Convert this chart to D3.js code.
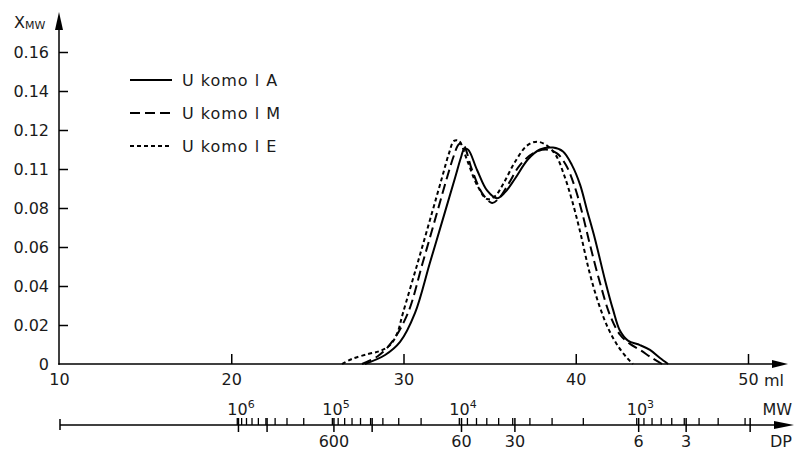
<!DOCTYPE html>
<html>
<head>
<meta charset="utf-8">
<script src="https://d3js.org/d3.v7.min.js"></script>
<style>
body { margin: 0; background: white; }
svg text { font-family: "DejaVu Sans", sans-serif; fill: #1a1a1a; }
.axis path, .axis line { stroke: black; stroke-width: 1.5; fill: none; }
.axis text { font-size: 16px; font-family: "DejaVu Sans", sans-serif; }
</style>
</head>
<body>
<script>
// elution volume (ml) and mass fraction
const mlA = [27.76, 28.93, 29.80, 30.67, 31.53, 32.41, 32.99, 33.34, 33.51, 33.74, 34.27, 34.85, 35.43, 35.89, 36.47, 37.23, 37.92, 38.68, 39.26, 39.78, 40.25, 40.65, 41.12, 41.70, 42.16, 42.57, 43.03, 43.73, 44.31, 44.89, 45.36];
const xA  = [0, 0.0046, 0.0113, 0.0262, 0.0518, 0.078, 0.0954, 0.106, 0.110, 0.110, 0.0995, 0.089, 0.085, 0.088, 0.095, 0.105, 0.110, 0.111, 0.109, 0.102, 0.092, 0.079, 0.064, 0.043, 0.028, 0.017, 0.012, 0.0097, 0.0072, 0.0031, 0];

const mlM = [27.59, 28.52, 29.33, 30.26, 31.11, 31.94, 32.52, 32.93, 33.22, 33.45, 33.98, 34.56, 35.14, 35.54, 36.07, 36.76, 37.52, 38.27, 38.91, 39.43, 39.90, 40.36, 40.83, 41.41, 41.99, 42.57, 43.15, 43.73, 44.43, 45.01];
const xM  = [0, 0.0041, 0.0113, 0.0262, 0.0518, 0.0774, 0.0954, 0.107, 0.1128, 0.1128, 0.0995, 0.0877, 0.0826, 0.085, 0.092, 0.102, 0.108, 0.110, 0.108, 0.102, 0.092, 0.078, 0.061, 0.0415, 0.025, 0.015, 0.0103, 0.0072, 0.0031, 0];

const mlE = [26.43, 27.01, 27.94, 28.64, 29.22, 29.62, 29.97, 30.82, 31.65, 32.23, 32.64, 32.93, 33.22, 33.69, 34.27, 34.85, 35.31, 35.83, 36.47, 37.17, 37.75, 38.33, 38.85, 39.32, 39.78, 40.25, 40.77, 41.29, 41.87, 42.45, 42.98, 43.32];
const xE  = [0, 0.0026, 0.0051, 0.0067, 0.0097, 0.0154, 0.0262, 0.0518, 0.0774, 0.0954, 0.108, 0.1144, 0.1144, 0.1046, 0.0918, 0.0846, 0.086, 0.093, 0.1036, 0.112, 0.114, 0.112, 0.107, 0.097, 0.084, 0.068, 0.048, 0.032, 0.0185, 0.0092, 0.0031, 0];

const seriesNames = ["U komo l A", "U komo l M", "U komo l E"];

const yTicks = [0, 0.02, 0.04, 0.06, 0.08, 0.10, 0.12, 0.14, 0.16];
const yTickLabels = ["0", "0.02", "0.04", "0.06", "0.08", "0.11", "0.12", "0.14", "0.16"];
const xTicks = [10, 20, 30, 40, 50];

// calibration: molecular weight vs elution volume
const calMW = [1e6, 1e5, 1e4, 1e3, 500, 200, 100];
const calML = [20.35, 25.87, 33.24, 43.54, 46.3, 49.83, 50.8];
const mwDecades = [1e6, 1e5, 1e4, 1e3];
const mwExp = ["6", "5", "4", "3"];
const dpTicks = [6000, 3000, 600, 300, 60, 30, 6, 3, 1];
const dpLabels = ["", "", "600", "", "60", "30", "6", "3", ""];
const glucose = 162;

const svg = d3.select("body").append("svg")
  .attr("width", 794).attr("height", 450);

const x = d3.scaleLinear().domain([10, 50]).range([59, 748]);
const y = d3.scaleLinear().domain([0, 0.16]).range([364, 52]);
const mwToMl = d3.scaleLog().domain(calMW).range(calML);
const mwX = d => x(mwToMl(d));

// y axis
svg.append("g")
  .attr("class", "axis")
  .attr("transform", "translate(59,0)")
  .call(d3.axisLeft(y).tickValues(yTicks).tickSizeInner(-9).tickSizeOuter(0).tickPadding(10)
    .tickFormat((d, i) => yTickLabels[i]))
  .call(g => g.select(".domain").remove())
  .call(g => g.selectAll(".tick").filter(d => d === 0).select("line").remove());

svg.append("line").attr("x1", 59).attr("x2", 59).attr("y1", 364.75).attr("y2", 26)
  .attr("stroke", "black").attr("stroke-width", 1.5);
svg.append("path").attr("d", "M59,12 L55,30 L63,30 Z").attr("fill", "black");

const yLab = svg.append("text").attr("x", 14).attr("y", 28).attr("font-size", 16);
yLab.append("tspan").text("X");
yLab.append("tspan").attr("font-size", 11).attr("dy", 1).text("MW");

// x axis
svg.append("g")
  .attr("class", "axis")
  .attr("transform", "translate(0,364)")
  .call(d3.axisBottom(x).tickValues(xTicks).tickSizeInner(-10).tickSizeOuter(0).tickPadding(10)
    .tickFormat(d3.format("d")))
  .call(g => g.select(".domain").remove())
  .call(g => g.selectAll(".tick").filter(d => d === 10).select("line").remove());

svg.append("line").attr("x1", 58.25).attr("x2", 776).attr("y1", 364).attr("y2", 364)
  .attr("stroke", "black").attr("stroke-width", 1.5);
svg.append("path").attr("d", "M788,364 L772,360 L772,368 Z").attr("fill", "black");
svg.append("text").attr("x", 764).attr("y", 386).attr("font-size", 16).text("ml");

// MW / DP axis
const ay = 425;
const ax = svg.append("g");
ax.append("line").attr("x1", 60).attr("x2", 778).attr("y1", ay).attr("y2", ay)
  .attr("stroke", "black").attr("stroke-width", 1.5);
ax.append("line").attr("x1", 60).attr("x2", 60).attr("y1", ay - 6).attr("y2", ay + 5)
  .attr("stroke", "black").attr("stroke-width", 1.5);
ax.append("path").attr("d", `M794,${ay} L774,${ay - 4} L774,${ay + 4} Z`).attr("fill", "black");

const mwMinor = [];
[1e5, 1e4, 1e3, 1e2].forEach(d => {
  for (let m = 2; m <= 9; m++) if (m * d >= 200) mwMinor.push(m * d);
});

ax.selectAll(".mwminor").data(mwMinor.concat(mwDecades)).join("line")
  .attr("x1", d => mwX(d)).attr("x2", d => mwX(d))
  .attr("y1", ay).attr("y2", ay - 7)
  .attr("stroke", "black").attr("stroke-width", 1.3);

ax.selectAll(".dp").data(dpTicks).join("line")
  .attr("x1", d => mwX(d * glucose)).attr("x2", d => mwX(d * glucose))
  .attr("y1", ay - 7).attr("y2", ay + 7)
  .attr("stroke", "black").attr("stroke-width", 1.5);

const mwLab = ax.selectAll(".mwlab").data(mwDecades).join("text")
  .attr("x", d => mwX(d) - 10).attr("y", ay - 10).attr("font-size", 16);
mwLab.append("tspan").text("10");
mwLab.append("tspan").attr("font-size", 11).attr("dy", -7).text((d, i) => mwExp[i]);

ax.selectAll(".dplab").data(dpTicks).join("text")
  .attr("x", d => mwX(d * glucose)).attr("y", ay + 22)
  .attr("text-anchor", "middle").attr("font-size", 16)
  .text((d, i) => dpLabels[i]);

ax.append("text").attr("x", 792).attr("y", ay - 10).attr("text-anchor", "end").attr("font-size", 16).text("MW");
ax.append("text").attr("x", 792).attr("y", ay + 22).attr("text-anchor", "end").attr("font-size", 16).text("DP");

// curves
const series = [
  { name: seriesNames[0], ml: mlA, v: xA, dash: null },
  { name: seriesNames[1], ml: mlM, v: xM, dash: "10,5" },
  { name: seriesNames[2], ml: mlE, v: xE, dash: "4,3" }
];

const line = d3.line().curve(d3.curveCatmullRom.alpha(0.5))
  .x(d => x(d[0])).y(d => y(d[1]));

svg.selectAll(".curve").data(series).join("path")
  .attr("fill", "none").attr("stroke", "black").attr("stroke-width", 2)
  .attr("stroke-dasharray", d => d.dash)
  .attr("d", d => line(d.ml.map((m, i) => [m, d.v[i]])));

// legend
const leg = svg.selectAll(".leg").data(series).join("g")
  .attr("transform", (d, i) => `translate(130,${80 + i * 33})`);
leg.append("line").attr("x1", 0).attr("x2", 42)
  .attr("stroke", "black").attr("stroke-width", 2)
  .attr("stroke-dasharray", d => d.dash);
leg.append("text").attr("x", 52).attr("y", 6).attr("font-size", 16)
  .attr("letter-spacing", 1).text(d => d.name);
</script>
</body>
</html>
